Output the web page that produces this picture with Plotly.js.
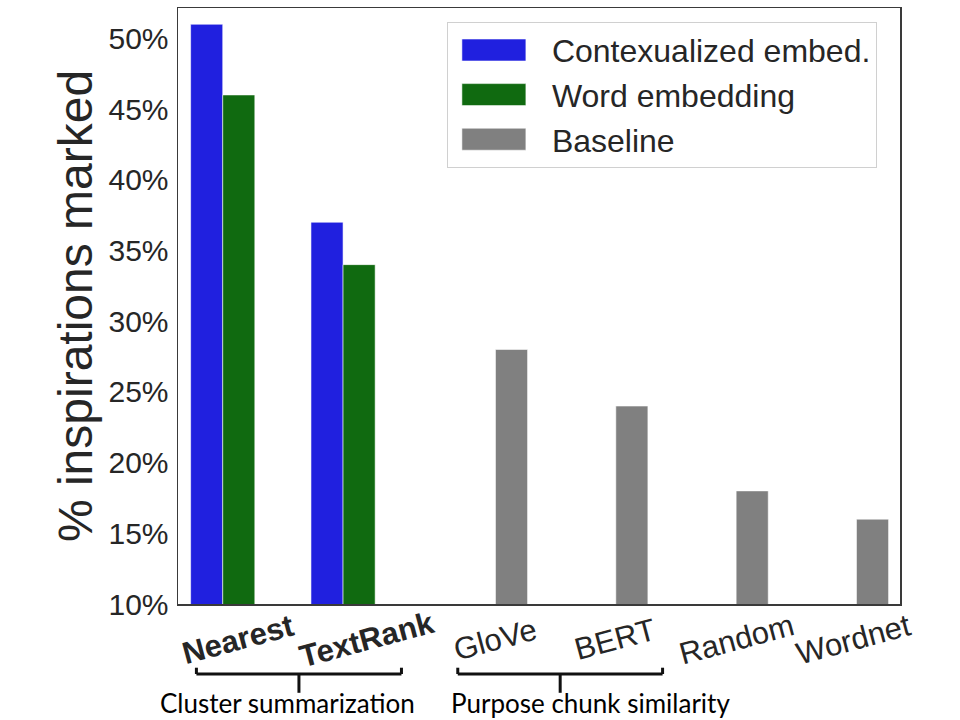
<!DOCTYPE html>
<html>
<head>
<meta charset="utf-8">
<script src="https://cdn.plot.ly/plotly-3.0.1.min.js"></script>
<style>
	body { margin: 0; background: white; }
	#chart { width: 960px; height: 720px; }
</style>
</head>
<body>
<div id="chart"></div>
<script>
const categories = ['Nearest', 'TextRank', 'GloVe', 'BERT', 'Random', 'Wordnet'];
const boldCategories = ['Nearest', 'TextRank'];

const contextualized = [51, 37, null, null, null, null];
const wordEmbedding = [46, 34, null, null, null, null];
const baseline = [null, null, 28, 24, 18, 16];

const seriesNames = ['Contexualized embed.', 'Word embedding', 'Baseline'];
const yTicks = [10, 15, 20, 25, 30, 35, 40, 45, 50];
const groupNames = ['Cluster summarization', 'Purpose chunk similarity'];

const font = 'Liberation Sans, Arial, sans-serif';
const textColor = '#262626';
const edge = { color: 'rgba(255,255,255,0.55)', width: 1 };

const traces = [
	{ x: categories, y: contextualized, name: seriesNames[0], type: 'bar', marker: { color: '#2020df', line: edge } },
	{ x: categories, y: wordEmbedding, name: seriesNames[1], type: 'bar', marker: { color: '#106a10', line: edge } },
	{ x: categories, y: baseline, name: seriesNames[2], type: 'bar', marker: { color: '#808080', line: edge } },
];

// rotated tick labels, nudged the way the original sits
const labelNudge = [-1, 8, 16, 15, 16, 13];
const annotations = categories.map((c, i) => ({
	x: i, xref: 'x', y: -0.0595, yref: 'paper',
	xshift: labelNudge[i],
	text: boldCategories.includes(c) ? '<b>' + c + '</b>' : c,
	textangle: -15, showarrow: false,
	xanchor: 'center', yanchor: 'middle',
	font: { family: font, size: 31, color: textColor },
}));

// brackets under the axis, spans in category units
const spans = [[-0.352, 1.352], [1.82, 3.522]];
const groupNudge = [-11, 30];
const yEnd = -0.1069, yBar = -0.1175, yStem = -0.149;
const shapes = [];
spans.forEach(([a, b], k) => {
	const mid = (a + b) / 2;
	const line = { color: '#111', width: 3 };
	const base = { type: 'line', xref: 'x', yref: 'paper', line };
	shapes.push({ ...base, x0: a, x1: b, y0: yBar, y1: yBar });
	shapes.push({ ...base, x0: a, x1: a, y0: yEnd, y1: yBar });
	shapes.push({ ...base, x0: b, x1: b, y0: yEnd, y1: yBar });
	shapes.push({ ...base, x0: mid, x1: mid, y0: yBar, y1: yStem });
	annotations.push({
		x: mid, xref: 'x', y: -0.196, yref: 'paper',
		xshift: groupNudge[k],
		text: groupNames[k], showarrow: false,
		xanchor: 'center', yanchor: 'bottom',
		font: { family: 'Lato, Noto Sans, sans-serif', size: 26, color: '#000' },
	});
});

const legendItemWidth = 94;

const layout = {
	width: 960,
	height: 720,
	margin: { l: 178, r: 60, t: 8, b: 116 },
	paper_bgcolor: 'white',
	plot_bgcolor: 'white',
	barmode: 'group',
	bargap: 0.2,
	bargroupgap: 0,
	font: { family: font, color: textColor },
	xaxis: {
		type: 'category',
		range: [-0.505, 5.495],
		showticklabels: false,
		ticks: '',
		showgrid: false,
		zeroline: false,
		showline: true, mirror: true,
		linecolor: '#3a3a3a', linewidth: 1.5,
	},
	yaxis: {
		range: [10, 52.15],
		tickvals: yTicks,
		ticktext: yTicks.map(v => v + '%'),
		ticks: '',
		ticklabelstandoff: 2,
		tickfont: { family: font, size: 30, color: textColor },
		showgrid: false,
		zeroline: false,
		showline: true, mirror: true,
		linecolor: '#3a3a3a', linewidth: 1.5,
		title: { text: '% inspirations marked', standoff: 0, font: { family: font, size: 48, color: textColor } },
	},
	legend: {
		x: 0.968, y: 0.977, xanchor: 'right', yanchor: 'top',
		bgcolor: 'white',
		bordercolor: '#d0d0d0', borderwidth: 1,
		itemwidth: legendItemWidth,
		font: { family: font, size: 32, color: textColor },
	},
	shapes: shapes,
	annotations: annotations,
	showlegend: true,
};

Plotly.newPlot('chart', traces, layout, { staticPlot: true }).then(gd => {
	// wide flat swatches like the original legend, pulled toward the box edge
	const c = -(legendItemWidth / 2 + 4 - 45);
	const path = 'M' + (c + 32) + ',11H' + (c - 32) + 'V-11H' + (c + 32) + 'Z';
	gd.querySelectorAll('.legendpoints path').forEach(p => p.setAttribute('d', path));
});
</script>
</body>
</html>
